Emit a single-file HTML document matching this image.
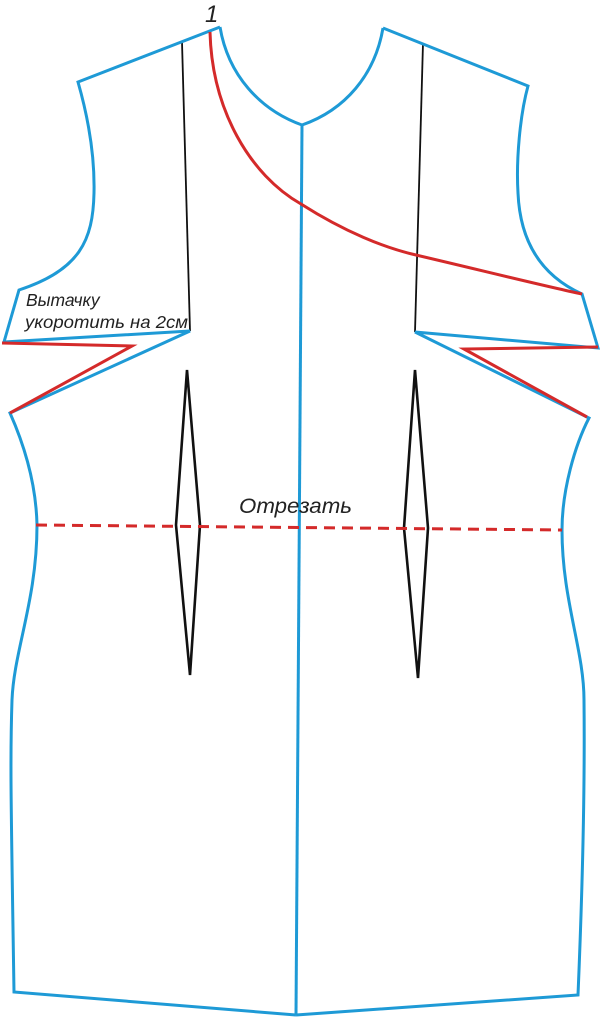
<!DOCTYPE html>
<html><head><meta charset="utf-8"><style>
html,body{margin:0;padding:0;background:#fff;}
svg{display:block;}
</style></head><body>
<svg width="600" height="1018" viewBox="0 0 600 1018" xmlns="http://www.w3.org/2000/svg">
<g fill="none" stroke-linejoin="miter" stroke-linecap="butt">
<line x1="182" y1="42" x2="190" y2="331" stroke="#111" stroke-width="1.8"/>
<line x1="423" y1="43" x2="415" y2="332" stroke="#111" stroke-width="1.8"/>
<polygon points="187,370 200,525 190,675 176,525" stroke="#111" stroke-width="2.6"/>
<polygon points="415,370 428,528 418,678 404,528" stroke="#111" stroke-width="2.6"/>
<path d="M220,27 L78,82 C86,110 95,150 94,193 C93,240 80,270 19,290 L4,342 L190,331 L10,413 C22,440 36,480 37,525 C37,600 14,650 12,700 C10,760 11,800 14,992 L296,1015" stroke="#1e9ad6" stroke-width="3"/>
<path d="M220,27 C228,75 260,110 302,125 C345,110 375,75 383,28" stroke="#1e9ad6" stroke-width="3"/>
<path d="M383,28 L528,86 C520,115 516,160 518,193 C520,240 540,275 582,294 L598,348 L415,332 L589,418 C575,445 562,490 562,530 C562,600 584,650 584,700 C585,790 582,900 578,995 L296,1015" stroke="#1e9ad6" stroke-width="3"/>
<line x1="302" y1="125" x2="296" y2="1015" stroke="#1e9ad6" stroke-width="3"/>
<path d="M210,32 C212,110 250,175 301,204 C345,232 385,248 416,255 C480,270 540,285 582,294" stroke="#d42a2a" stroke-width="3"/>
<path d="M2,343 L132,346 L10,413" stroke="#d42a2a" stroke-width="3"/>
<path d="M598,347 L464,349 L587,417" stroke="#d42a2a" stroke-width="3"/>
<line x1="36" y1="525" x2="562" y2="530" stroke="#d42a2a" stroke-width="3" stroke-dasharray="11,7"/>
</g>
<g font-family="'Liberation Sans', sans-serif" font-style="italic" fill="#222">
<text x="205" y="22" font-size="24">1</text>
<text x="26" y="306" font-size="17.5">Вытачку</text>
<text x="25" y="328" font-size="17.5" textLength="163" lengthAdjust="spacingAndGlyphs">укоротить на 2см</text>
<text x="239" y="513" font-size="21" textLength="113" lengthAdjust="spacingAndGlyphs">Отрезать</text>
</g>
</svg>
</body></html>
